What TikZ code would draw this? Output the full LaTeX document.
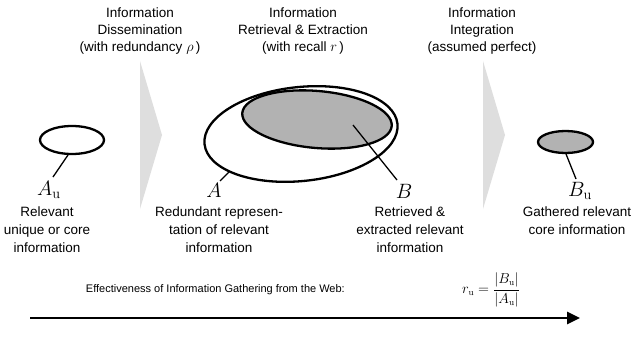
\documentclass[tikz,border=0pt]{standalone}
\usepackage[no-math]{fontspec}
\setmainfont{Liberation Sans}
\usetikzlibrary{shapes.geometric,arrows.meta}
\definecolor{chevgrey}{gray}{0.87}
\definecolor{setgrey}{gray}{0.70}
\begin{document}
\begin{tikzpicture}[x=1pt,y=1pt,
  lbl/.style={align=center,font=\fontsize{13.5}{17}\selectfont,inner sep=0pt},
  blbl/.style={align=center,font=\fontsize{13.5}{18}\selectfont,inner sep=0pt},
  setline/.style={ellipse,draw,line width=2.3pt,inner sep=0pt},
  lead/.style={line width=1.3pt},
  sym/.style={font=\fontsize{20}{24}\selectfont,inner sep=0pt},
  chev/.style={fill=chevgrey}]
\useasboundingbox (0,0) rectangle (639,-342);
% chevrons
\fill[chev] (140,-61) -- (162,-135) -- (140,-209) -- cycle;
\fill[chev] (483,-61) -- (505,-135) -- (483,-209) -- cycle;
% top labels
\node[lbl] (t1) at (140,-31) {Information\\Dissemination\\(with redundancy $\rho$\,)};
\node[lbl] (t2) at (303,-31) {Information\\Retrieval \& Extraction\\(with recall $r$\,)};
\node[lbl] (t3) at (482,-31) {Information\\Integration\\(assumed perfect)};
% sets
\node[setline,minimum width=64,minimum height=28] (Au) at (72,-140) {};
\node[setline,rotate=6,minimum width=194,minimum height=94] (A) at (301,-134) {};
\node[setline,fill=setgrey,rotate=-5,minimum width=150,minimum height=57] (B) at (317,-119.5) {};
\node[setline,fill=setgrey,minimum width=55,minimum height=22] (Bu) at (565.5,-142) {};
% symbol labels
\node[sym] (lAu) at (49,-190) {$A_{\mathrm{u}}$};
\node[sym] (lA) at (214,-190) {$A$};
\node[sym] (lB) at (404,-191) {$B$};
\node[sym] (lBu) at (580,-191) {$B_{\mathrm{u}}$};
% leader lines
\coordinate (au1) at (68,-155); \coordinate (au2) at (53,-177);
\coordinate (a1) at (229,-172); \coordinate (a2) at (220,-181);
\coordinate (b1) at (353,-125); \coordinate (b2) at (397,-180);
\coordinate (bu1) at (566,-154); \coordinate (bu2) at (576,-179);
\draw[lead] (au1) -- (au2);
\draw[lead] (a1) -- (a2);
\draw[lead] (b1) -- (b2);
\draw[lead] (bu1) -- (bu2);
% bottom labels
\node[blbl] (d1) at (47,-230) {Relevant\\unique or core\\information};
\node[blbl] (d2) at (219,-230) {Redundant represen-\\tation of relevant\\information};
\node[blbl] (d3) at (410,-230) {Retrieved \&\\extracted relevant\\information};
\node[blbl] (d4) at (577,-221) {Gathered relevant\\core information};
% effectiveness
\node[font=\fontsize{11}{13}\selectfont,inner sep=0pt,anchor=east] (eff) at (345,-290) {Effectiveness of Information Gathering from the Web:};
\node[font=\fontsize{13.5}{15}\selectfont,inner sep=0pt,anchor=west] (ru) at (462,-290) {$r_{\mathrm{u}}=\displaystyle\frac{\left|B_{\mathrm{u}}\right|}{\left|A_{\mathrm{u}}\right|}$};
\coordinate (arrS) at (30,-318);
\coordinate (arrE) at (580,-318);
\draw[line width=2.8pt,-{Triangle[length=13pt,width=12pt]}] (arrS) -- (arrE);
\end{tikzpicture}
\end{document}
